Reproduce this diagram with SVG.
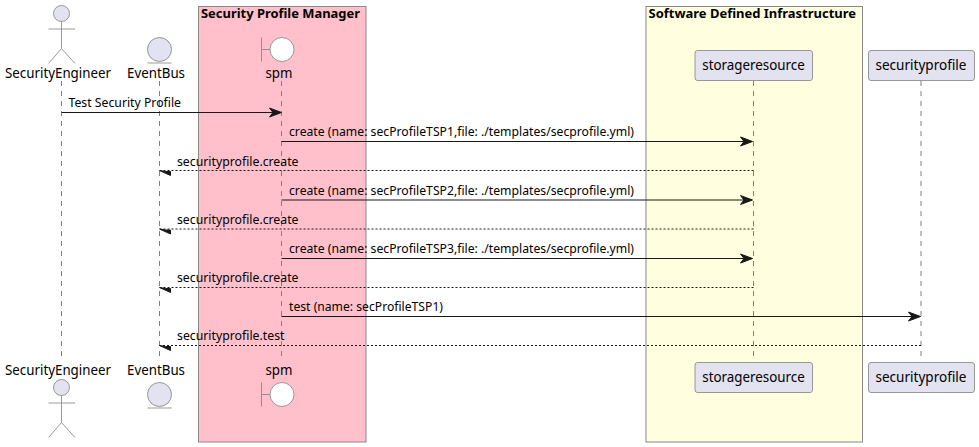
<svg xmlns="http://www.w3.org/2000/svg" width="979" height="447" viewBox="0 0 979 447">
<style>
text{font-family:"Noto Sans","DejaVu Sans",sans-serif;fill:#000}
.p{font-size:14px;text-anchor:middle}
.m{font-size:13px}
.t{font-size:13px;font-weight:bold}
.box{stroke:#888;stroke-width:1}
.life{stroke:#808080;stroke-width:1;stroke-dasharray:5,5;fill:none}
.shape{fill:#E2E2F0;stroke:#808080;stroke-width:.8}
.st{fill:none;stroke:#808080;stroke-width:.8}
.a{stroke:#181818;stroke-width:1;fill:none}
.d{stroke:#181818;stroke-width:1;stroke-dasharray:2,2;fill:none}
.h{fill:#181818;stroke:#181818;stroke-width:1}
</style>
<defs>
<g id="actor"><circle cx="61.5" cy="13.5" r="8" class="shape"/><path class="st" d="M61.5 21.500V48.500M48.500 29H75M61.500 48.500L48.500 63.500M61.500 48.500L75 63.500"/></g>
<g id="entity"><circle cx="159.500" cy="49.500" r="12" class="shape"/><path class="st" d="M147.500 63H171.500"/></g>
<g id="boundary"><circle cx="282" cy="49.500" r="12" fill="#fff" stroke="#808080" stroke-width=".8"/><path class="st" d="M261.500 37.500V61.500M261.500 49.500H270"/></g>
<path id="ah" d="M0 0L-12-4.500L-8.500 0L-12 4.500Z"/>
<path id="bh" d="M0 0L11 5L11 1L6 1Z"/>
</defs>
<g id="box-security-profile-manager"><rect class="box" x="198.500" y="6.500" width="167.500" height="435.500" fill="#FFC0CB"/><text class="t" x="201" y="18" textLength="159" lengthAdjust="spacingAndGlyphs">Security Profile Manager</text></g>
<g id="box-software-defined-infrastructure"><rect class="box" x="646" y="6.500" width="216.500" height="435.500" fill="#FFFFE0"/><text class="t" x="648.500" y="18" textLength="207.500" lengthAdjust="spacingAndGlyphs">Software Defined Infrastructure</text></g>
<g id="lifelines">
<path class="life" d="M61.500 81V360"/><path class="life" d="M159.500 81V360"/><path class="life" d="M281.500 81V360"/><path class="life" d="M753.500 81V360"/><path class="life" d="M921 81V360"/>
</g>
<g id="SecurityEngineer"><use href="#actor"/><use href="#actor" y="374"/><text class="p" x="58" y="78" textLength="106" lengthAdjust="spacingAndGlyphs">SecurityEngineer</text><text class="p" x="58" y="375" textLength="106" lengthAdjust="spacingAndGlyphs">SecurityEngineer</text></g>
<g id="EventBus"><use href="#entity"/><use href="#entity" y="345"/><text class="p" x="156" y="78" textLength="58" lengthAdjust="spacingAndGlyphs">EventBus</text><text class="p" x="156" y="375" textLength="58" lengthAdjust="spacingAndGlyphs">EventBus</text></g>
<g id="spm"><use href="#boundary"/><use href="#boundary" y="345"/><text class="p" x="279" y="78" textLength="27" lengthAdjust="spacingAndGlyphs">spm</text><text class="p" x="279" y="375" textLength="27" lengthAdjust="spacingAndGlyphs">spm</text></g>
<g id="storageresource"><rect class="shape" x="695" y="50.500" width="117.500" height="30" rx="2.500"/><text class="p" x="753.500" y="70" textLength="102.500" lengthAdjust="spacingAndGlyphs">storageresource</text><rect class="shape" x="695" y="362.500" width="117.500" height="30" rx="2.500"/><text class="p" x="753.500" y="382" textLength="102.500" lengthAdjust="spacingAndGlyphs">storageresource</text></g>
<g id="securityprofile"><rect class="shape" x="868.500" y="50.500" width="106" height="30" rx="2.500"/><text class="p" x="921" y="70" textLength="91" lengthAdjust="spacingAndGlyphs">securityprofile</text><rect class="shape" x="868.500" y="362.500" width="106" height="30" rx="2.500"/><text class="p" x="921" y="382" textLength="91" lengthAdjust="spacingAndGlyphs">securityprofile</text></g>
<g id="connectors">
<path class="a" d="M61.500 112.500H281"/><use href="#ah" class="h" x="281.500" y="112.500"/>
<path class="a" d="M281.500 141.500H752"/><use href="#ah" class="h" x="752.500" y="141.500"/>
<path class="d" d="M753.500 170.500H160"/><use href="#bh" class="h" x="159.500" y="170.500"/>
<path class="a" d="M281.500 200H752"/><use href="#ah" class="h" x="752.500" y="200"/>
<path class="d" d="M753.500 229H160"/><use href="#bh" class="h" x="159.500" y="229"/>
<path class="a" d="M281.500 258.500H752"/><use href="#ah" class="h" x="752.500" y="258.500"/>
<path class="d" d="M753.500 287.500H160"/><use href="#bh" class="h" x="159.500" y="287.500"/>
<path class="a" d="M281.500 316.500H920"/><use href="#ah" class="h" x="920.500" y="316.500"/>
<path class="d" d="M921 345.500H160"/><use href="#bh" class="h" x="159.500" y="345.500"/>
</g>
<g id="labels">
<text class="m" x="68.500" y="107" textLength="112.500" lengthAdjust="spacingAndGlyphs">Test Security Profile</text>
<text class="m" x="289" y="136" textLength="345" lengthAdjust="spacingAndGlyphs">create (name: secProfileTSP1,file: ./templates/secprofile.yml)</text>
<text class="m" x="177" y="166" textLength="121.500" lengthAdjust="spacingAndGlyphs">securityprofile.create</text>
<text class="m" x="289" y="195" textLength="345" lengthAdjust="spacingAndGlyphs">create (name: secProfileTSP2,file: ./templates/secprofile.yml)</text>
<text class="m" x="177" y="224" textLength="121.500" lengthAdjust="spacingAndGlyphs">securityprofile.create</text>
<text class="m" x="289" y="253" textLength="345" lengthAdjust="spacingAndGlyphs">create (name: secProfileTSP3,file: ./templates/secprofile.yml)</text>
<text class="m" x="177" y="282" textLength="121.500" lengthAdjust="spacingAndGlyphs">securityprofile.create</text>
<text class="m" x="289" y="311" textLength="154" lengthAdjust="spacingAndGlyphs">test (name: secProfileTSP1)</text>
<text class="m" x="177" y="340" textLength="107.500" lengthAdjust="spacingAndGlyphs">securityprofile.test</text>
</g>
</svg>
